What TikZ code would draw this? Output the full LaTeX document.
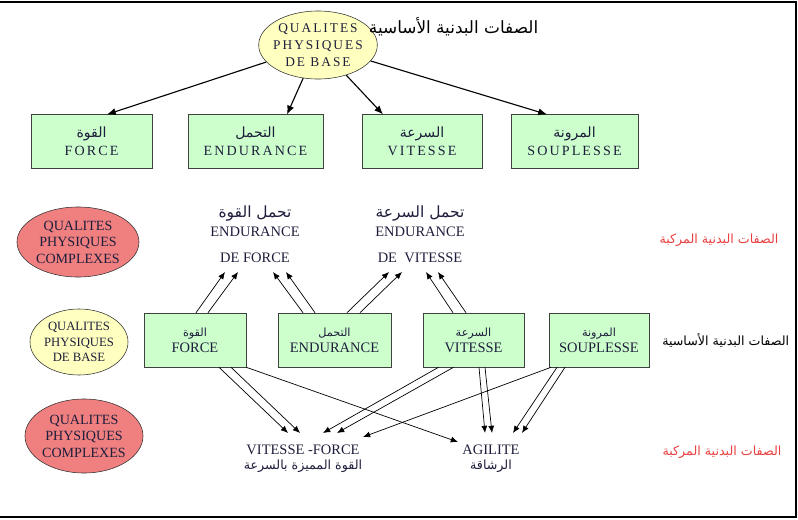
\documentclass[tikz,border=0pt]{standalone}
\usepackage{fontspec}
\setmainfont{Liberation Serif}
\newfontfamily\arabicfont[Script=Arabic]{DejaVu Sans}
\newfontfamily\spacedfont[LetterSpace=15]{Liberation Serif}
\TeXXeTstate=1
\usepackage{xcolor}
\usepackage{tikz}
\usetikzlibrary{shapes.geometric,arrows.meta,positioning,calc}

\definecolor{qyellow}{RGB}{255,255,192}
\definecolor{qgreen}{RGB}{204,255,204}
\definecolor{qred}{RGB}{240,128,128}
\definecolor{qtext}{RGB}{30,30,60}
\definecolor{qlabel}{RGB}{232,64,64}
\newcommand{\artext}[1]{{\arabicfont\beginR #1\endR}}

\begin{document}
\begin{tikzpicture}[
    x=0.025cm, y=-0.025cm,
    box/.style={draw=black!75, fill=qgreen, minimum height=1.34cm, align=center, inner sep=0pt, text=qtext},
    bubble/.style={ellipse, draw=black!80, align=center, inner sep=-2pt, text=qtext, font=\fontsize{10}{11.7}\selectfont},
    arrow/.style={-{Latex[length=2.2mm,width=1.8mm]}, line width=0.8pt},
    thin arrow/.style={-{Latex[length=1.8mm,width=1.5mm]}, line width=0.5pt}
]
\useasboundingbox (0,0) rectangle (798,520);
\draw[line width=1pt] (0,2) -- (796,2) -- (796,517) -- (0,517);

% basic qualities, top
\node[bubble, fill=qyellow, minimum width=2.8cm, minimum height=1.7cm, font=\spacedfont\fontsize{9.5}{12}\selectfont] (qb) at (318,45) {QUALITES\\PHYSIQUES\\DE BASE};
\node[anchor=west, font=\fontsize{12}{14}\selectfont] (qbar) at (364,27) {\artext{الصفات البدنية الأساسية}};

\node[box, minimum width=3.03cm, font=\fontsize{10}{12.5}\selectfont] (force1) at (91.5,141.5) {\artext{القوة}\\{\spacedfont\fontsize{10}{12.5}\selectfont FORCE}};
\node[box, minimum width=3.38cm, font=\fontsize{10}{12.5}\selectfont] (endu1) at (255.5,141.5) {\artext{التحمل}\\{\spacedfont\fontsize{10}{12.5}\selectfont ENDURANCE}};
\node[box, minimum width=3.0cm, font=\fontsize{10}{12.5}\selectfont] (vite1) at (422,141.5) {\artext{السرعة}\\{\spacedfont\fontsize{10}{12.5}\selectfont VITESSE}};
\node[box, minimum width=3.18cm, font=\fontsize{10}{12.5}\selectfont] (soup1) at (574.5,141.5) {\artext{المرونة}\\{\spacedfont\fontsize{10}{12.5}\selectfont SOUPLESSE}};

\draw[arrow] (qb) -- ($(force1.north)+(15.5,0)$);
\draw[arrow] (qb) -- ($(endu1.north)+(31.5,0)$);
\draw[arrow] (qb) -- ($(vite1.north)+(-39,0)$);
\draw[arrow] (qb) -- ($(soup1.north)+(-27.5,0)$);

% complex qualities, endurance
\node[bubble, fill=qred, minimum width=3.05cm, minimum height=1.75cm] (cx1) at (78,242) {QUALITES\\PHYSIQUES\\COMPLEXES};
\node[text=qlabel, font=\fontsize{9}{11}\selectfont] (cxar1) at (719,240) {\artext{الصفات البدنية المركبة}};

\node[align=center, anchor=south, inner xsep=1pt, inner ysep=6.5pt, text=qtext, font=\fontsize{10.3}{13.5}\selectfont] (endf) at (255,272) {{\fontsize{11}{13}\selectfont\artext{تحمل القوة}}\\ENDURANCE\\[5pt]DE FORCE};
\node[align=center, anchor=south, inner xsep=1pt, inner ysep=6.5pt, text=qtext, font=\fontsize{10.3}{13.5}\selectfont] (endv) at (420,272) {{\fontsize{11}{13}\selectfont\artext{تحمل السرعة}}\\ENDURANCE\\[5pt]DE\ \ VITESSE};

% basic qualities, middle
\node[bubble, fill=qyellow, minimum width=2.45cm, minimum height=1.65cm, font=\fontsize{9}{11}\selectfont] (qb2) at (79,342) {QUALITES\\PHYSIQUES\\DE BASE};

\node[box, minimum width=2.55cm, minimum height=1.35cm, font=\fontsize{10.3}{11.5}\selectfont] (force2) at (195,340) {{\fontsize{8}{10}\selectfont\artext{القوة}}\\FORCE};
\node[box, minimum width=2.83cm, minimum height=1.35cm, font=\fontsize{10.3}{11.5}\selectfont] (endu2) at (334.5,340) {{\fontsize{8}{10}\selectfont\artext{التحمل}}\\ENDURANCE};
\node[box, minimum width=2.53cm, minimum height=1.35cm, font=\fontsize{10.3}{11.5}\selectfont] (vite2) at (473.5,340) {{\fontsize{8}{10}\selectfont\artext{السرعة}}\\VITESSE};
\node[box, minimum width=2.5cm, minimum height=1.35cm, font=\fontsize{10.3}{11.5}\selectfont] (soup2) at (599,340) {{\fontsize{8}{10}\selectfont\artext{المرونة}}\\SOUPLESSE};
\node[right=0.2cm of soup2, font=\fontsize{9}{10}\selectfont] (qbar2) {\artext{الصفات البدنية الأساسية}};

\draw[thin arrow] ($(force2.north)+(1,0)$) -- ($(endf.south)+(-30,0)$);
\draw[thin arrow] ($(force2.north)+(13,0)$) -- ($(endf.south)+(-17,0)$);
\draw[thin arrow] ($(endu2.north)+(-31.5,0)$) -- ($(endf.south)+(18,0)$);
\draw[thin arrow] ($(endu2.north)+(-19.5,0)$) -- ($(endf.south)+(31,0)$);
\draw[thin arrow] ($(endu2.north)+(12.5,0)$) -- ($(endv.south)+(-31,0)$);
\draw[thin arrow] ($(endu2.north)+(25.5,0)$) -- ($(endv.south)+(-18,0)$);
\draw[thin arrow] ($(vite2.north)+(-20.5,0)$) -- ($(endv.south)+(6,0)$);
\draw[thin arrow] ($(vite2.north)+(-7.5,0)$) -- ($(endv.south)+(18,0)$);

% complex qualities, bottom
\node[bubble, fill=qred, minimum width=2.95cm, minimum height=1.85cm] (cx2) at (84,436) {QUALITES\\PHYSIQUES\\COMPLEXES};
\node[text=qlabel, font=\fontsize{9}{11}\selectfont] (cxar2) at (722,452) {\artext{الصفات البدنية المركبة}};

\node[align=center, anchor=north, inner xsep=1pt, inner ysep=8pt, text=qtext, font=\fontsize{10.3}{10.8}\selectfont] (vf) at (303,433) {VITESSE -FORCE\\{\fontsize{9}{10.8}\selectfont\artext{القوة المميزة بالسرعة}}};
\node[align=center, anchor=north, inner xsep=1pt, inner ysep=8pt, text=qtext, font=\fontsize{10.3}{10.8}\selectfont] (agil) at (491,433) {AGILITE\\{\fontsize{9}{10.8}\selectfont\artext{الرشاقة}}};

\draw[thin arrow] ($(force2.south)+(24,0)$) -- ($(vf.north)+(-15,0)$);
\draw[thin arrow] ($(force2.south)+(36,0)$) -- ($(vf.north)+(-3,0)$);
\draw[thin arrow] (force2.south east) -- ($(agil.north)+(-33,9)$);
\draw[thin arrow] ($(vite2.south)+(-35,0)$) -- ($(vf.north)+(20,0)$);
\draw[thin arrow] ($(vite2.south)+(-20,0)$) -- ($(vf.north)+(34,0)$);
\draw[thin arrow] ($(vite2.south)+(5.5,0)$) -- ($(agil.north)+(-6,0)$);
\draw[thin arrow] ($(vite2.south)+(11.5,0)$) -- ($(agil.north)+(1,0)$);
\draw[thin arrow] ($(soup2.south)+(-48,0)$) -- ($(vf.north)+(60,4)$);
\draw[thin arrow] ($(soup2.south)+(-42,0)$) -- ($(agil.north)+(22,0)$);
\draw[thin arrow] ($(soup2.south)+(-34,0)$) -- ($(agil.north)+(31,0)$);
\end{tikzpicture}
\end{document}
